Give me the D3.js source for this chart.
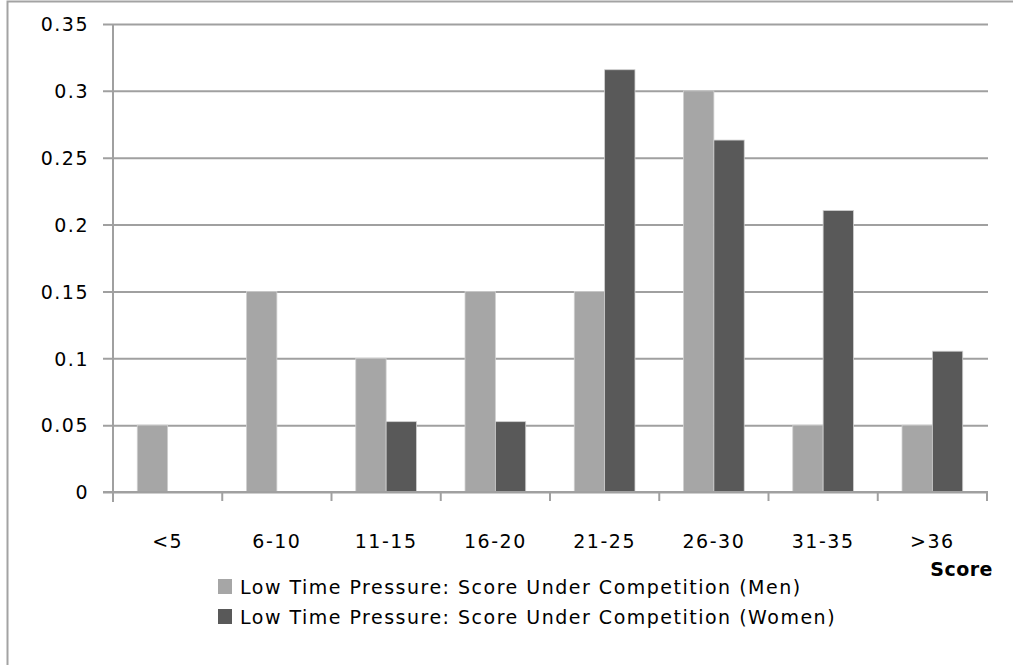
<!DOCTYPE html>
<html>
<head>
<meta charset="utf-8">
<script src="https://cdn.jsdelivr.net/npm/d3@7"></script>
<style>
  html, body { margin: 0; padding: 0; background: #fff; }
  svg text { font-family: "DejaVu Sans", sans-serif; font-size: 19px; letter-spacing: 1.5px; fill: #000; }
</style>
</head>
<body>
<svg id="chart" width="1013" height="665"></svg>
<script>
// Score bins and the share of each group falling in each bin
const categories = ["<5", "6-10", "11-15", "16-20", "21-25", "26-30", "31-35", ">36"];
const menValues   = [0.05, 0.15, 0.10, 0.15, 0.15, 0.30, 0.05, 0.05];
const womenValues = [0, 0, 0.0526, 0.0526, 0.3158, 0.2632, 0.2105, 0.1053];
const seriesNames = [
  "Low Time Pressure: Score Under Competition (Men)",
  "Low Time Pressure: Score Under Competition (Women)"
];
const seriesColors = ["#a6a6a6", "#595959"];
const yTicks = [0, 0.05, 0.1, 0.15, 0.2, 0.25, 0.3, 0.35];
const yTickLabels = ["0", "0.05", "0.1", "0.15", "0.2", "0.25", "0.3", "0.35"];
const xTitle = "Score";

const svg = d3.select("#chart");
const plot = { left: 113, right: 987, top: 24, bottom: 492 };

// outer frame
svg.append("path")
  .attr("d", "M7.5,665 V1.5 H1013")
  .attr("fill", "none").attr("stroke", "#a3a3a3").attr("stroke-width", 2);

const x0 = d3.scaleBand().domain(categories).range([plot.left, plot.right]).padding(0);
const x1 = d3.scaleBand().domain([0, 1]).range([0, x0.bandwidth()]).paddingInner(0).paddingOuter(0.8);
const y = d3.scaleLinear().domain([0, 0.35]).range([plot.bottom, plot.top]);

// horizontal gridlines with y ticks
const yAxis = d3.axisLeft(y).tickValues(yTicks)
  .tickFormat((d, i) => yTickLabels[i])
  .tickSize(-(plot.right - plot.left + 1)).tickPadding(24);
const gy = svg.append("g").attr("transform", `translate(${plot.left},0)`).call(yAxis);
gy.select(".domain").remove();
gy.selectAll(".tick line").attr("x1", -10).attr("stroke", "#a0a0a0").attr("stroke-width", 2);
gy.selectAll(".tick text").attr("font-size", null).attr("font-family", null).attr("dy", "0.36em");

// vertical axis line
svg.append("line")
  .attr("x1", plot.left).attr("x2", plot.left)
  .attr("y1", y(0.35)).attr("y2", plot.bottom + 10)
  .attr("stroke", "#a0a0a0").attr("stroke-width", 2);

// bars
const series = [menValues, womenValues];
const groups = svg.append("g").selectAll("g")
  .data(categories).join("g")
  .attr("transform", d => `translate(${x0(d)},0)`);
groups.selectAll("rect")
  .data((d, i) => series.map((vals, s) => ({ s, v: vals[i] })).filter(e => e.v > 0))
  .join("rect")
  .attr("x", d => x1(d.s))
  .attr("width", x1.bandwidth())
  .attr("y", d => y(d.v))
  .attr("height", d => y(0) - y(d.v))
  .attr("fill", d => seriesColors[d.s])
  .attr("stroke", "#cfcfcf").attr("stroke-width", 0.8);

// category axis
const xAxis = d3.axisBottom(x0).tickSize(0).tickPadding(43);
const gx = svg.append("g").attr("transform", `translate(0,${plot.bottom})`).call(xAxis);
gx.select(".domain").remove();
gx.selectAll(".tick text").attr("font-size", null).attr("font-family", null);
svg.append("line")
  .attr("x1", plot.left - 10).attr("x2", plot.right + 1)
  .attr("y1", plot.bottom).attr("y2", plot.bottom)
  .attr("stroke", "#a0a0a0").attr("stroke-width", 2);
svg.append("g").selectAll("line")
  .data(categories.map(c => x0(c)).concat([plot.right]))
  .join("line")
  .attr("x1", d => d).attr("x2", d => d)
  .attr("y1", plot.bottom).attr("y2", plot.bottom + 9)
  .attr("stroke", "#a0a0a0").attr("stroke-width", 2);

// axis title
svg.append("text")
  .attr("x", 993).attr("y", 576)
  .attr("text-anchor", "end")
  .attr("font-weight", "bold")
  .style("letter-spacing", "0.5px")
  .text(xTitle);

// legend
const legend = svg.append("g").attr("transform", "translate(218,579)");
const li = legend.selectAll("g").data(seriesNames).join("g")
  .attr("transform", (d, i) => `translate(0,${i * 30})`);
li.append("rect").attr("width", 14).attr("height", 15).attr("fill", (d, i) => seriesColors[i]);
li.append("text").attr("x", 22).attr("y", 15).text(d => d);
</script>
</body>
</html>
